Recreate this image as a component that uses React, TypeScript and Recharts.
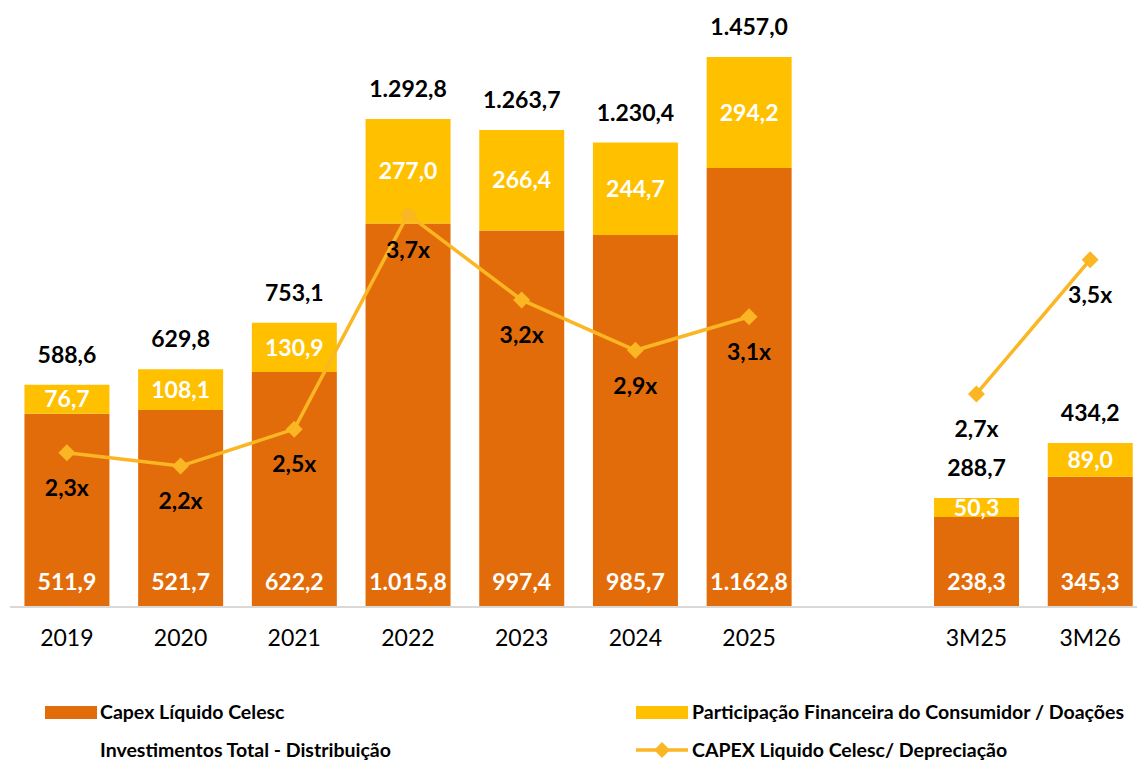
import React from "react";
import { ComposedChart, Bar, Line, XAxis, YAxis, LabelList } from "recharts";

const categories = ["2019", "2020", "2021", "2022", "2023", "2024", "2025", "", "3M25", "3M26"];
const capexLiquido = [511.9, 521.7, 622.2, 1015.8, 997.4, 985.7, 1162.8, null, 238.3, 345.3];
const participacao = [76.7, 108.1, 130.9, 277.0, 266.4, 244.7, 294.2, null, 50.3, 89.0];
const investimentoTotal = [588.6, 629.8, 753.1, 1292.8, 1263.7, 1230.4, 1457.0, null, 288.7, 434.2];
const capexDepreciacao = [2.32, 2.24, 2.46, 3.74, 3.23, 2.93, 3.13, null, 2.67, 3.47];

const data = categories.map((c, i) => ({
  cat: c,
  capex: capexLiquido[i],
  part: participacao[i],
  total: investimentoTotal[i],
  ratio: capexDepreciacao[i],
}));

const ORANGE = "#E36C0A";
const YELLOW = "#FFC000";
const LINE = "#FBB624";
const FONT = "Lato, 'Open Sans', sans-serif";

const fmt = (v: any) => {
  if (v === null || v === undefined) return "";
  const [int, dec] = Number(v).toFixed(1).split(".");
  const withDots = int.replace(/\B(?=(\d{3})+(?!\d))/g, ".");
  return `${withDots},${dec}`;
};
const fmtX = (v: any) => (v === null || v === undefined ? "" : Number(v).toFixed(1).replace(".", ",") + "x");

const Diamond = (props: any) => {
  const { cx, cy } = props;
  if (cx == null || cy == null || props.value == null) return null;
  const s = 8.5;
  return (
    <polygon
      points={`${cx},${cy - s} ${cx + s},${cy} ${cx},${cy + s} ${cx - s},${cy}`}
      fill={LINE}
      stroke="none"
    />
  );
};

const legendText: React.CSSProperties = {
  position: "absolute",
  fontFamily: FONT,
  fontWeight: 700,
  fontSize: 19.5,
  color: "#000",
  whiteSpace: "nowrap",
  lineHeight: "22px",
};

export default function App() {
  return (
    <div
      style={{
        position: "absolute",
        left: 0,
        top: 0,
        width: 1137,
        height: 760,
        overflow: "hidden",
        background: "#fff",
        fontFamily: FONT,
      }}
    >
      <ComposedChart
        width={1147}
        height={680}
        data={data}
        margin={{ top: 3, right: 0, bottom: 0, left: 10 }}
        barCategoryGap="12.7%"
      >
        <XAxis
          dataKey="cat"
          height={73}
          tickLine={false}
          axisLine={{ stroke: "#D9D9D9", strokeWidth: 2 }}
          tick={{ fill: "#000", fontSize: 23, fontFamily: FONT }}
          tickMargin={17}
          interval={0}
        />
        <YAxis yAxisId="left" hide domain={[0, 1600]} />
        <YAxis yAxisId="right" orientation="right" hide domain={[1.4, 5.0]} />
        <Bar yAxisId="left" dataKey="capex" stackId="a" fill={ORANGE} isAnimationActive={false}>
          <LabelList
            dataKey="capex"
            position="insideBottom"
            offset={17}
            formatter={fmt}
            fill="#fff"
            style={{ fontSize: 23, fontWeight: 700, fontFamily: FONT }}
          />
        </Bar>
        <Bar yAxisId="left" dataKey="part" stackId="a" fill={YELLOW} isAnimationActive={false}>
          <LabelList
            dataKey="part"
            position="center"
            formatter={fmt}
            fill="#fff"
            style={{ fontSize: 23, fontWeight: 700, fontFamily: FONT }}
          />
          <LabelList
            dataKey="total"
            position="top"
            offset={22}
            formatter={fmt}
            fill="#000"
            style={{ fontSize: 23, fontWeight: 700, fontFamily: FONT }}
          />
        </Bar>
        <Line
          yAxisId="right"
          dataKey="ratio"
          stroke={LINE}
          strokeWidth={3.5}
          dot={<Diamond />}
          activeDot={false}
          isAnimationActive={false}
        >
          <LabelList
            dataKey="ratio"
            position="bottom"
            offset={27}
            formatter={fmtX}
            fill="#000"
            style={{ fontSize: 23, fontWeight: 700, fontFamily: FONT }}
          />
        </Line>
      </ComposedChart>

      {/* Legend */}
      <div style={{ position: "absolute", left: 45, top: 706, width: 52, height: 13, background: ORANGE }} />
      <div style={{ ...legendText, left: 100, top: 701 }}>Capex Líquido Celesc</div>
      <div style={{ ...legendText, left: 100, top: 739 }}>Investimentos Total - Distribuição</div>
      <div style={{ position: "absolute", left: 636, top: 706, width: 52, height: 13, background: YELLOW }} />
      <div style={{ ...legendText, left: 692, top: 701 }}>Participação Financeira do Consumidor / Doações</div>
      <svg style={{ position: "absolute", left: 636, top: 740 }} width={52} height={20}>
        <line x1={0} y1={10} x2={52} y2={10} stroke={LINE} strokeWidth={3.5} />
        <polygon points="26,2 34,10 26,18 18,10" fill={LINE} />
      </svg>
      <div style={{ ...legendText, left: 692, top: 739 }}>CAPEX Liquido Celesc/ Depreciação</div>
    </div>
  );
}
